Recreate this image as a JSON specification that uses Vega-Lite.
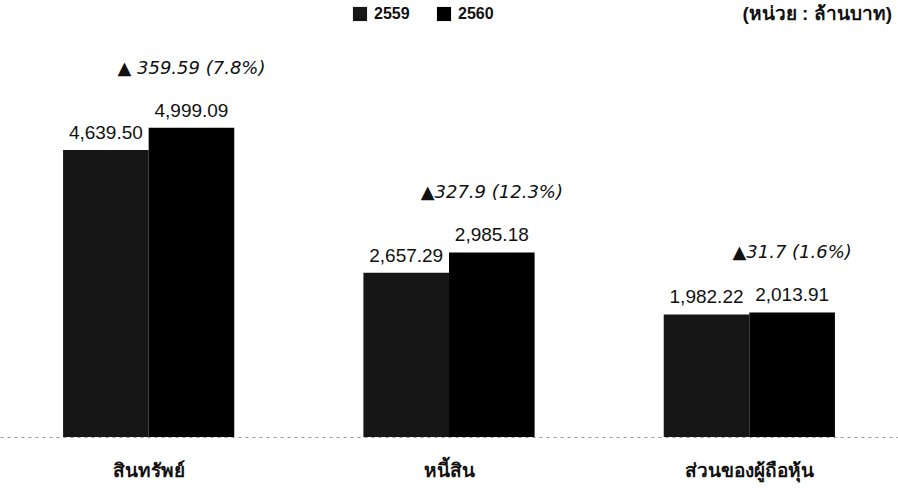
{
  "$schema": "https://vega.github.io/schema/vega-lite/v6.json",
  "width": 898,
  "height": 495,
  "autosize": {"type": "fit", "contains": "padding"},
  "padding": {"top": 5, "left": 0, "right": 0, "bottom": 15},
  "background": "white",
  "config": {
    "view": {"stroke": null},
    "font": "Liberation Sans"
  },
  "title": {
    "text": "(หน่วย : ล้านบาท)",
    "anchor": "end",
    "fontSize": 19,
    "fontWeight": "bold",
    "color": "#111",
    "offset": 16,
    "dx": -6
  },
  "data": {
    "values": [
      {"category": "สินทรัพย์", "year": "2559", "value": 4639.50, "change": ""},
      {"category": "สินทรัพย์", "year": "2560", "value": 4999.09, "change": "▲ 359.59 (7.8%)"},
      {"category": "หนี้สิน", "year": "2559", "value": 2657.29, "change": ""},
      {"category": "หนี้สิน", "year": "2560", "value": 2985.18, "change": "▲327.9 (12.3%)"},
      {"category": "ส่วนของผู้ถือหุ้น", "year": "2559", "value": 1982.22, "change": ""},
      {"category": "ส่วนของผู้ถือหุ้น", "year": "2560", "value": 2013.91, "change": "▲31.7 (1.6%)"}
    ]
  },
  "encoding": {
    "x": {
      "field": "category",
      "type": "nominal",
      "sort": null,
      "scale": {"paddingInner": 0.43, "paddingOuter": 0.21},
      "axis": {
        "title": null,
        "labelAngle": 0,
        "labelFontSize": 19,
        "labelFontWeight": "bold",
        "labelColor": "#111",
        "labelPadding": 24,
        "ticks": false,
        "domainColor": "#999",
        "domainDash": [3, 4],
        "domainWidth": 1
      }
    },
    "xOffset": {"field": "year", "type": "nominal", "scale": {"paddingInner": 0}},
    "y": {
      "field": "value",
      "type": "quantitative",
      "scale": {"domain": [0, 6420], "nice": false},
      "axis": null
    }
  },
  "layer": [
    {
      "mark": {"type": "bar"},
      "encoding": {
        "color": {
          "field": "year",
          "type": "nominal",
          "scale": {"domain": ["2559", "2560"], "range": ["#161616", "#000000"]},
          "legend": {
            "title": null,
            "orient": "none",
            "direction": "horizontal",
            "legendX": 352,
            "legendY": -34,
            "symbolType": "square",
            "symbolSize": 200,
            "labelFontSize": 16,
            "labelFontWeight": "bold",
            "labelColor": "#111",
            "columnPadding": 26,
            "labelOffset": 6
          }
        }
      }
    },
    {
      "mark": {"type": "text", "baseline": "bottom", "dy": -7, "fontSize": 19, "color": "#111"},
      "encoding": {
        "text": {"field": "value", "type": "quantitative", "format": ",.2f"}
      }
    },
    {
      "transform": [{"filter": "datum.year == '2560'"}],
      "mark": {"type": "text", "baseline": "bottom", "dy": -50, "fontSize": 18, "font": "DejaVu Sans", "fontStyle": "italic", "color": "#111"},
      "encoding": {
        "text": {"field": "change", "type": "nominal"}
      }
    }
  ]
}
